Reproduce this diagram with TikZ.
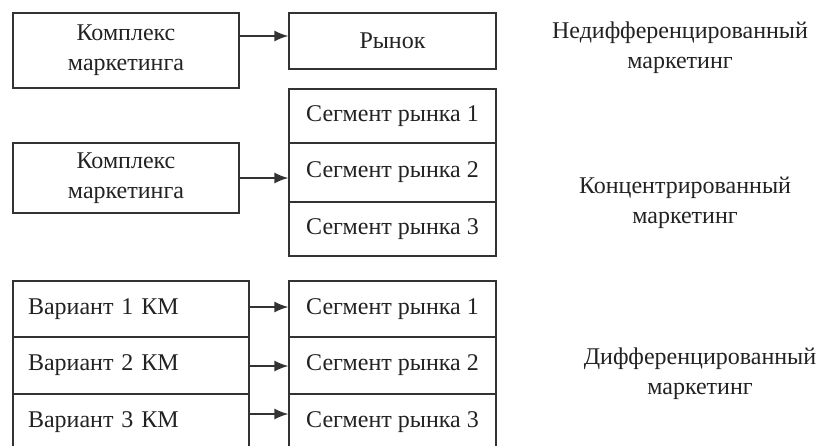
\documentclass[tikz,border=0pt]{standalone}
\usepackage{fontspec}
\setmainfont{Liberation Serif}
\usetikzlibrary{arrows.meta,calc}
\definecolor{ln}{HTML}{333333}
\definecolor{tx}{HTML}{222222}
\begin{document}
\begin{tikzpicture}[x=1pt,y=-1pt,
  every node/.style={font=\fontsize{24}{30}\selectfont, text=tx},
  box/.style={draw=ln, line width=1.4pt, rectangle, inner sep=0pt, align=center},
  lbox/.style={box, text width=206pt, align=left},
  lbl/.style={align=center},
  arr/.style={draw=ln, line width=1.4pt, -{Latex[length=14pt,width=11pt]}}]
\useasboundingbox (0,0) rectangle (821,445);
\begin{scope}
\clip (0,0) rectangle (821,445);
% undifferentiated
\node[box, minimum width=226pt, minimum height=75pt] (km1) at (126,50.5) {Комплекс\\маркетинга};
\node[box, minimum width=207pt, minimum height=56pt] (rynok) at (392.5,41) {Рынок};
% concentrated
\node[box, minimum width=207pt, minimum height=54pt] (c1) at (392.5,116) {Сегмент рынка 1};
\node[box, minimum width=207pt, minimum height=59pt] (c2) at (392.5,172.5) {Сегмент рынка 2};
\node[box, minimum width=207pt, minimum height=54pt] (c3) at (392.5,229) {Сегмент рынка 3};
\node[box, minimum width=226pt, minimum height=70pt] (km2) at (126,178) {Комплекс\\маркетинга};
% differentiated
\node[lbox, minimum width=236pt, minimum height=56pt] (v1) at (131,309) {Вариант 1 КМ};
\node[lbox, minimum width=236pt, minimum height=57pt] (v2) at (131,365.5) {Вариант 2 КМ};
\node[lbox, minimum width=236pt, minimum height=57pt] (v3) at (131,422.5) {Вариант 3 КМ};
\node[box, minimum width=207pt, minimum height=56pt] (d1) at (392.5,309) {Сегмент рынка 1};
\node[box, minimum width=207pt, minimum height=57pt] (d2) at (392.5,365.5) {Сегмент рынка 2};
\node[box, minimum width=207pt, minimum height=57pt] (d3) at (392.5,422.5) {Сегмент рынка 3};
\end{scope}
% arrows
\coordinate (ya) at (0,36);
\draw[arr] (km1.east |- ya) -- (rynok.west |- ya);
\draw[arr] (km2.east) -- (km2.east -| c2.west);
\coordinate (yb1) at (0,307);
\coordinate (yb2) at (0,366);
\coordinate (yb3) at (0,414);
\draw[arr] (v1.east |- yb1) -- (d1.west |- yb1);
\draw[arr] (v2.east |- yb2) -- (d2.west |- yb2);
\draw[arr] (v3.east |- yb3) -- (d3.west |- yb3);
% labels
\node[lbl] (l1) at (680,48) {Недифференцированный\\маркетинг};
\node[lbl] (l2) at (685,203) {Концентрированный\\маркетинг};
\node[lbl] (l3) at (700,374) {Дифференцированный\\маркетинг};
\end{tikzpicture}
\end{document}
